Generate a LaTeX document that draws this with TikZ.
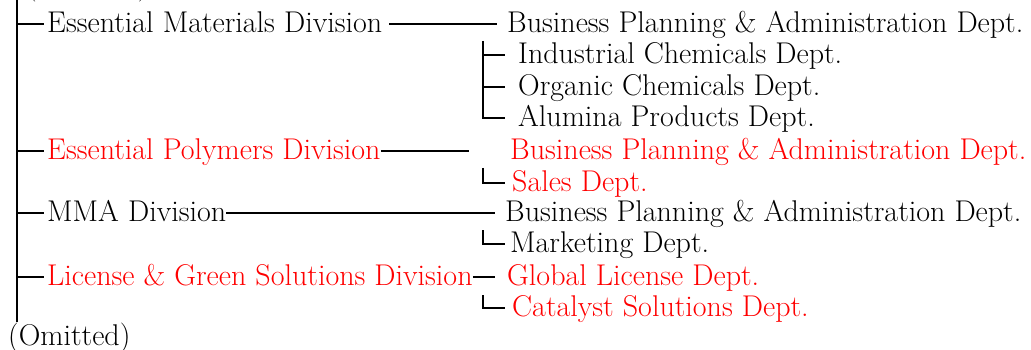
\documentclass[tikz,border=0pt]{standalone}
\usepackage{tikz}
\begin{document}
\begin{tikzpicture}[x=1pt,y=-1pt,line cap=butt]
	\tikzset{lbl/.style={anchor=west,inner sep=0pt,text height=20pt,text depth=3pt,font=\fontsize{30}{34}\selectfont},
		redlbl/.style={lbl,text=red},
		tree/.style={line width=1.9pt}}
	\useasboundingbox (0,0) rectangle (1031,350);
	\clip (0,0) rectangle (1031,350);
	% divisions
	\node[lbl,anchor=base west] (omittop) at (26,-5.5) {(Omitted)};
	\node[lbl] (emd) at (47,24) {Essential Materials Division};
	\node[redlbl] (epd) at (47,151) {Essential Polymers Division};
	\node[lbl] (mma) at (47,213) {MMA Division};
	\node[redlbl] (lgs) at (47,277) {License \& Green Solutions Division};
	\node[lbl] (omit) at (8,337) {(Omitted)};
	% departments
	\node[lbl] (emdbp) at (507,24) {Business Planning \& Administration Dept.};
	\node[lbl] (ic) at (518,55) {Industrial Chemicals Dept.};
	\node[lbl] (oc) at (518,87) {Organic Chemicals Dept.};
	\node[lbl] (ap) at (518,118) {Alumina Products Dept.};
	\node[redlbl] (epdbp) at (510,151) {Business Planning \& Administration Dept.};
	\node[redlbl] (sales) at (512,183) {Sales Dept.};
	\node[lbl] (mmabp) at (505,213) {Business Planning \& Administration Dept.};
	\node[lbl] (mkt) at (510,244) {Marketing Dept.};
	\node[redlbl] (gl) at (507,277) {Global License Dept.};
	\node[redlbl] (cat) at (512,308) {Catalyst Solutions Dept.};
	% trunk
	\coordinate (trunktop) at (17,0);
	\coordinate (trunkbot) at (17,322);
	\draw[tree] (trunktop)--(trunkbot);
	\foreach \d in {emd,epd,mma,lgs}{\draw[tree,shorten >=3pt] (trunktop |- \d.west)--(\d.west);}
	% division links
	\coordinate (epdend) at (469,151);
	\draw[tree,shorten <=7pt,shorten >=10pt] (emd.east)--(emdbp.west);
	\draw[tree] (epd.east)--(epdend);
	\draw[tree,shorten >=10pt] (mma.east)--(mmabp.west);
	\draw[tree,shorten >=12pt] (lgs.east)--(gl.west);
	% sub branches
	\coordinate (emdsub) at (483,41);
	\coordinate (epdsub) at (483,168);
	\coordinate (mmasub) at (483,230);
	\coordinate (lgssub) at (483,295);
	\foreach \d in {ic,oc}{\draw[tree,shorten >=13pt] (emdsub |- \d.west)--(\d.west);}
	\draw[tree,shorten >=13pt] (emdsub)--(emdsub |- ap.west)--(ap.west);
	\draw[tree,shorten >=7pt] (epdsub)--(epdsub |- sales.west)--(sales.west);
	\draw[tree,shorten >=5pt] (mmasub)--(mmasub |- mkt.west)--(mkt.west);
	\draw[tree,shorten >=7pt] (lgssub)--(lgssub |- cat.west)--(cat.west);
\end{tikzpicture}
\end{document}
